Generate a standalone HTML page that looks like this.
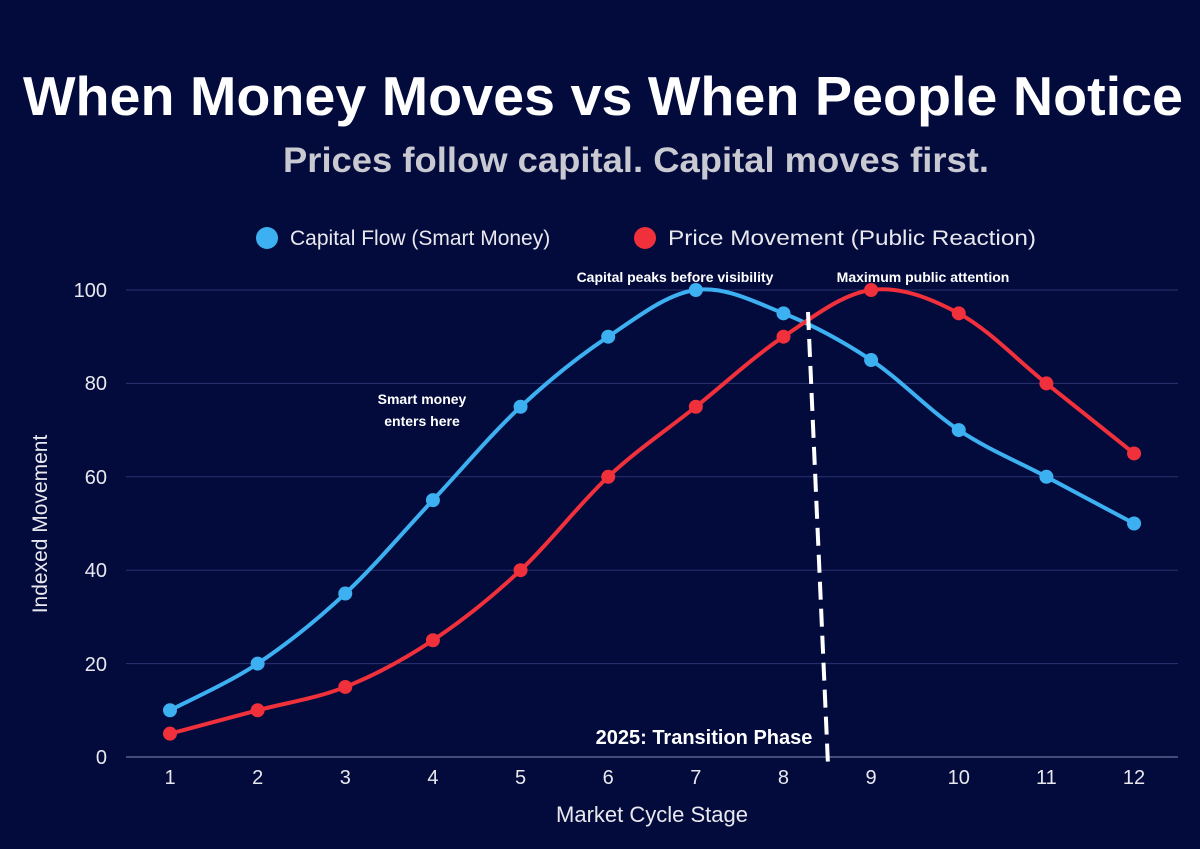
<!DOCTYPE html>
<html><head><style>
body{margin:0;background:#030b3d;}
svg{display:block}
</style></head><body>
<svg id="s" width="1200" height="849" viewBox="0 0 1200 849" font-family="Liberation Sans, sans-serif">
<rect width="1200" height="849" fill="#030b3d"/>
<text x="603" y="115" text-anchor="middle" fill="#fff" font-weight="bold" font-size="55" textLength="1160" lengthAdjust="spacingAndGlyphs">When Money Moves vs When People Notice</text>
<text x="636" y="172" text-anchor="middle" fill="#c9c9d2" font-weight="bold" font-size="35" textLength="706" lengthAdjust="spacingAndGlyphs">Prices follow capital. Capital moves first.</text>
<circle cx="267" cy="238" r="11" fill="#3db0f2"/>
<text x="290" y="245" fill="#e8e8ee" font-size="21">Capital Flow (Smart Money)</text>
<circle cx="645" cy="238" r="11" fill="#f0303a"/>
<text x="668" y="245" fill="#e8e8ee" font-size="21" textLength="368" lengthAdjust="spacingAndGlyphs">Price Movement (Public Reaction)</text>
<g stroke="#2a3370" stroke-width="1">
<line x1="126" x2="1178" y1="290" y2="290"/><line x1="126" x2="1178" y1="383.4" y2="383.4"/>
<line x1="126" x2="1178" y1="476.8" y2="476.8"/><line x1="126" x2="1178" y1="570.2" y2="570.2"/>
<line x1="126" x2="1178" y1="663.6" y2="663.6"/>
</g>
<line x1="126" x2="1178" y1="757" y2="757" stroke="#6a72a0" stroke-width="1.2"/>
<g fill="#e8e8ee" font-size="20" text-anchor="end">
<text x="107" y="297">100</text><text x="107" y="390">80</text><text x="107" y="484">60</text>
<text x="107" y="577">40</text><text x="107" y="671">20</text><text x="107" y="764">0</text>
</g>
<g id="xt" fill="#e8e8ee" font-size="20" text-anchor="middle"></g>
<text x="652" y="822" text-anchor="middle" fill="#e8e8ee" font-size="22">Market Cycle Stage</text>
<text transform="translate(47,524) rotate(-90)" text-anchor="middle" fill="#e8e8ee" font-size="21">Indexed Movement</text>
<path id="pb" fill="none" stroke="#3db0f2" stroke-width="4"/>
<path id="pr" fill="none" stroke="#f0303a" stroke-width="4"/>
<g id="dots"></g>
<line x1="808" y1="312" x2="828" y2="765" stroke="#fff" stroke-width="4" stroke-dasharray="18,9"/>
<g fill="#fff" font-weight="bold" text-anchor="middle" font-size="14">
<text x="675" y="282">Capital peaks before visibility</text>
<text x="923" y="282">Maximum public attention</text>
<text x="422" y="404">Smart money</text><text x="422" y="426">enters here</text>
</g>
<text x="704" y="744" text-anchor="middle" fill="#fff" font-weight="bold" font-size="20">2025: Transition Phase</text>
</svg>
<script>
var NS="http://www.w3.org/2000/svg";
var X=function(i){return 170+(i-1)*87.64},Y=function(v){return 757-4.67*v};
var B=[10,20,35,55,75,90,100,95,85,70,60,50],R=[5,10,15,25,40,60,75,90,100,95,80,65];
var K=6;
function path(d){var p=d.map(function(v,i){return[X(i+1),Y(v)]});var s="M"+p[0][0]+","+p[0][1];
for(var i=0;i!==p.length-1;i++){var p0=i>0?p[i-1]:p[i],p1=p[i],p2=p[i+1],p3=(i+2)!==p.length?p[i+2]:p2;
s+=" C"+(p1[0]+(p2[0]-p0[0])/K)+","+(p1[1]+(p2[1]-p0[1])/K)+" "+(p2[0]-(p3[0]-p1[0])/K)+","+(p2[1]-(p3[1]-p1[1])/K)+" "+p2[0]+","+p2[1];}return s;}
document.getElementById('pb').setAttribute('d',path(B));
document.getElementById('pr').setAttribute('d',path(R));
var g=document.getElementById('dots');
function dot(x,y,c){var e=document.createElementNS(NS,'circle');e.setAttribute('cx',x);e.setAttribute('cy',y);e.setAttribute('r',7);e.setAttribute('fill',c);g.appendChild(e);}
B.forEach(function(v,i){dot(X(i+1),Y(v),'#3db0f2')});
R.forEach(function(v,i){dot(X(i+1),Y(v),'#f0303a')});
var xt=document.getElementById('xt');
for(var i=1;i!==13;i++){var t=document.createElementNS(NS,'text');t.setAttribute('x',X(i));t.setAttribute('y',784);t.textContent=String(i);xt.appendChild(t);}
</script>
</body></html>
